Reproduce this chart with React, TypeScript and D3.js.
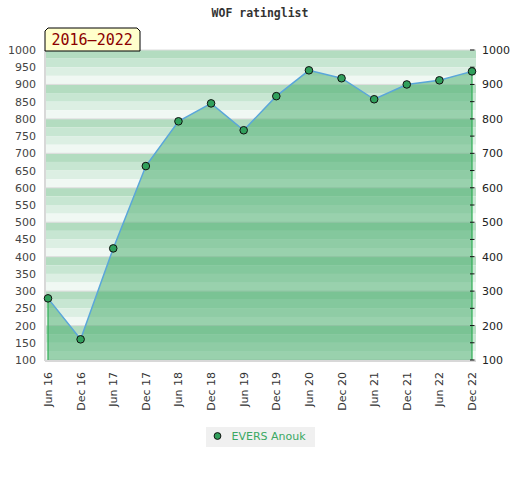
import * as d3 from 'd3';

const periods = [
  'Jun 16', 'Dec 16', 'Jun 17', 'Dec 17', 'Jun 18', 'Dec 18', 'Jun 19',
  'Dec 19', 'Jun 20', 'Dec 20', 'Jun 21', 'Dec 21', 'Jun 22', 'Dec 22',
];
const ratings = [279, 160, 424, 663, 793, 845, 767, 866, 941, 918, 857, 900, 912, 938];
const leftTicks = [100, 150, 200, 250, 300, 350, 400, 450, 500, 550, 600, 650, 700, 750, 800, 850, 900, 950, 1000];
const rightTicks = [100, 200, 300, 400, 500, 600, 700, 800, 900, 1000];
const playerName = 'EVERS Anouk';
const periodLabel = '2016–2022';

const stripeColors = ['#b3dcc0', '#c7e6d2', '#dcefe3', '#f0f8f3'];

const App = () => {
  const width = 520;
  const height = 480;
  const left = 45;
  const right = 476;
  const top = 50;
  const bottom = 360;

  const x = d3.scalePoint<string>().domain(periods).range([48, 472]);
  const y = d3.scaleLinear().domain([100, 1000]).range([bottom, top]);

  const points = periods.map((p, i) => ({ p, v: ratings[i] }));

  const area = d3
    .area<{ p: string; v: number }>()
    .x((d) => x(d.p)!)
    .y0(bottom)
    .y1((d) => y(d.v));
  const line = d3
    .line<{ p: string; v: number }>()
    .x((d) => x(d.p)!)
    .y((d) => y(d.v));

  // 4 sub-stripes per 100 band, darkest on top
  const stripes: { y0: number; y1: number; c: string }[] = [];
  for (let b = 100; b < 1000; b += 100) {
    for (let k = 0; k < 4; k++) {
      const hi = b + 100 - k * 25;
      stripes.push({ y0: y(hi), y1: y(hi - 25), c: stripeColors[k] });
    }
  }

  const first = points[0];
  const last = points[points.length - 1];
  const ticks50 = d3.range(100, 1001, 50);
  const font = 'DejaVu Sans, Verdana, sans-serif';
  const mono = 'DejaVu Sans Mono, monospace';

  return (
    <svg
      width={width}
      height={height}
      style={{ position: 'absolute', left: 0, top: 0, background: '#fff' }}
    >
      <text
        x={260}
        y={17}
        textAnchor='middle'
        fontFamily={mono}
        fontWeight='bold'
        fontSize={11.5}
        fill='#333'
      >
        WOF ratinglist
      </text>

      {stripes.map((s, i) => (
        <rect key={i} x={left} y={s.y0} width={right - left} height={s.y1 - s.y0} fill={s.c} />
      ))}
      {rightTicks.map((t) => (
        <line key={t} x1={left} x2={right} y1={y(t)} y2={y(t)} stroke='#dcdcdc' strokeWidth={1} />
      ))}
      <line x1={left} x2={left} y1={top} y2={bottom + 1} stroke='#d8d8d8' strokeWidth={2} />
      <line x1={left} x2={right} y1={bottom + 1} y2={bottom + 1} stroke='#d8d8d8' strokeWidth={2} />

      <path d={area(points)!} fill='rgb(65,169,103)' fillOpacity={0.5} />
      <line x1={x(first.p)} x2={x(first.p)} y1={y(first.v)} y2={bottom} stroke='#2fae55' strokeWidth={1.2} />
      <line x1={x(last.p)} x2={x(last.p)} y1={y(last.v)} y2={bottom} stroke='#2fae55' strokeWidth={1.2} />
      <path d={line(points)!} fill='none' stroke='#5aa6da' strokeWidth={1.5} />

      {ticks50.map((t) => (
        <line key={t} x1={470} x2={474.5} y1={y(t)} y2={y(t)} stroke='#111' strokeWidth={1} />
      ))}

      {points.map((d) => (
        <circle key={d.p} cx={x(d.p)} cy={y(d.v)} r={3.8} fill='#31a05c' stroke='#111' strokeWidth={1} />
      ))}

      {leftTicks.map((t) => (
        <text key={t} x={36} y={y(t) + 4} textAnchor='end' fontFamily={font} fontSize={11} fill='#444'>
          {t}
        </text>
      ))}
      {rightTicks.map((t) => (
        <text key={t} x={482} y={y(t) + 4} fontFamily={font} fontSize={11} fill='#222'>
          {t}
        </text>
      ))}

      {periods.map((p) => (
        <text
          key={p}
          transform={`translate(${x(p)! + 4},372) rotate(-90)`}
          textAnchor='end'
          fontFamily={font}
          fontSize={11}
          fill='#333'
        >
          {p}
        </text>
      ))}

      <path
        d='M45,51 L45,31 L48,28 L137,28 L140,31 L140,51 Z'
        fill='#ffffcc'
        stroke='#000'
        strokeWidth={1}
      />
      <text x={51.5} y={45} fontFamily={mono} fontSize={15} fill='#8b0000'>
        {periodLabel}
      </text>

      <rect x={206} y={427} width={109} height={20} fill='#f0f0f0' />
      <circle cx={217.5} cy={436} r={3.4} fill='#31a05c' stroke='#111' strokeWidth={1} />
      <text x={231.5} y={440} fontFamily={font} fontSize={11} fill='#3aa862'>
        {playerName}
      </text>
    </svg>
  );
};

export default App;
